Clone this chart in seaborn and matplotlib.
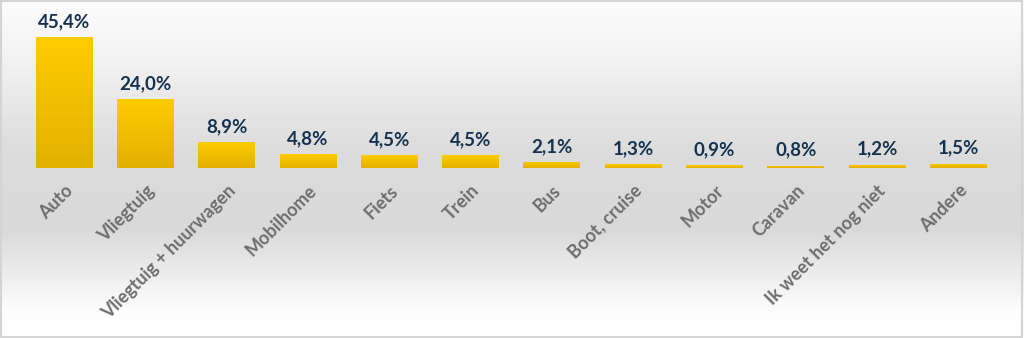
import numpy as np
import pandas as pd
import matplotlib
matplotlib.use("Agg")
import matplotlib.pyplot as plt
import seaborn as sns
from matplotlib.colors import LinearSegmentedColormap

categories = ["Auto", "Vliegtuig", "Vliegtuig + huurwagen", "Mobilhome", "Fiets", "Trein",
              "Bus", "Boot, cruise", "Motor", "Caravan", "Ik weet het nog niet", "Andere"]
values = [45.4, 24.0, 8.9, 4.8, 4.5, 4.5, 2.1, 1.3, 0.9, 0.8, 1.2, 1.5]
value_labels = ["45,4%", "24,0%", "8,9%", "4,8%", "4,5%", "4,5%",
                "2,1%", "1,3%", "0,9%", "0,8%", "1,2%", "1,5%"]

sns.set_theme(style="white")
plt.rcParams['font.family'] = ['Lato', 'DejaVu Sans']

df = pd.DataFrame({"cat": categories, "val": values})

fig = plt.figure(figsize=(10.24, 3.38), dpi=100)

# background gradient
bg = fig.add_axes([0, 0, 1, 1], zorder=-10)
yy = np.linspace(0, 1, 338)
shade = np.interp(yy, [0, 0.15, 0.45, 0.68, 0.92, 1.0], [0.985, 0.955, 0.86, 0.85, 0.99, 1.0])
img = np.tile(shade[:, None], (1, 10))
bg.imshow(img, cmap="gray", vmin=0, vmax=1, aspect="auto", extent=[0, 1, 0, 1], origin="upper")
bg.set_xlim(0, 1); bg.set_ylim(0, 1)
bg.axis("off")
fig.patches.append(plt.Rectangle((0.001, 0.002), 0.997, 0.995, transform=fig.transFigure,
                                 fill=False, edgecolor="#D4D4D4", linewidth=1.5))

ax = fig.add_axes([0.0229, 0.503, 0.9527, 0.482])
ax.patch.set_alpha(0)
sns.barplot(data=df, x="cat", y="val", color="#F5C400", width=0.7, ax=ax, saturation=1,
            linewidth=0, edgecolor="none")

cmap = LinearSegmentedColormap.from_list("bar", ["#E2B100", "#FFCC00"])
grad = np.linspace(0, 1, 100)[:, None]
for p in ax.patches:
    x0, y0 = p.get_x(), p.get_y()
    w, h = p.get_width(), p.get_height()
    im = ax.imshow(grad, cmap=cmap, aspect="auto", origin="lower",
                   extent=[x0, x0 + w, y0, y0 + h], zorder=p.get_zorder() + 0.1)
    im.set_clip_path(p)

ax.set_xlim(-0.5, len(categories) - 0.5)
ax.set_ylim(0, 56.5)

for i, (v, lab) in enumerate(zip(values, value_labels)):
    ax.annotate(lab, (i, v), xytext=(0, 5), textcoords="offset points",
                ha="center", va="bottom", fontsize=13.5, fontweight="bold", color="#14324F")

ax.set_xlabel("")
ax.set_ylabel("")
ax.set_yticks([])
ax.tick_params(axis="x", length=0, pad=10)
ax.set_xticks(range(len(categories)))
ax.set_xticklabels(categories, rotation=45, ha="right", rotation_mode="anchor",
                   fontsize=13, fontweight="bold", color="#6E6E6E")
for s in ax.spines.values():
    s.set_visible(False)

fig.savefig("out.png", dpi=100)
